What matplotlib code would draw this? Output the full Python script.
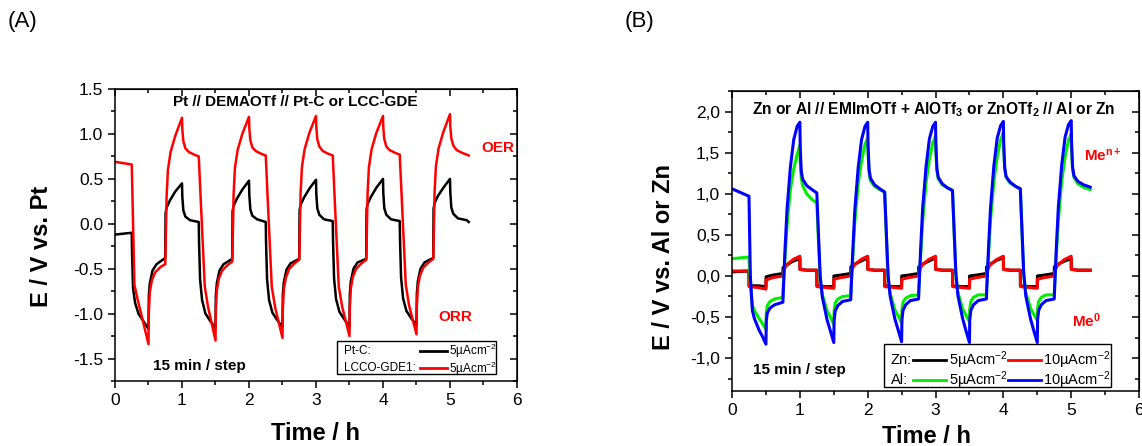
import matplotlib
matplotlib.use("Agg")
import matplotlib.pyplot as plt
from matplotlib.ticker import MultipleLocator
from matplotlib.patches import Rectangle

plt.rcParams["font.family"] = ["Liberation Sans", "DejaVu Sans"]
plt.rcParams["mathtext.fontset"] = "custom"
plt.rcParams["mathtext.rm"] = "Liberation Sans"
plt.rcParams["mathtext.bf"] = "Liberation Sans:bold"
plt.rcParams["mathtext.default"] = "regular"
plt.rcParams["axes.unicode_minus"] = False

END_T = 5.28

# ---- (A) Pt // DEMAOTf // Pt-C or LCC-GDE, 15 min steps ----
ptc_start = -0.12
ptc_rel_t = [0.25, 0.255, 0.27, 0.30, 0.35, 0.42, 0.50, 0.505, 0.52, 0.56, 0.62, 0.75,
             0.755, 0.77, 0.82, 0.90, 1.00, 1.005, 1.02, 1.05, 1.12, 1.25]
ptc_cycles = [
    [-0.10, -0.35, -0.72, -0.88, -1.00, -1.08, -1.17, -0.80, -0.66, -0.52, -0.45, -0.38,
     0.12, 0.18, 0.26, 0.36, 0.45, 0.30, 0.15, 0.08, 0.04, 0.02],
    [0.02, -0.22, -0.62, -0.85, -1.00, -1.08, -1.16, -0.80, -0.66, -0.52, -0.45, -0.39,
     0.14, 0.20, 0.28, 0.38, 0.48, 0.32, 0.16, 0.09, 0.05, 0.02],
    [0.02, -0.22, -0.62, -0.85, -0.99, -1.07, -1.15, -0.79, -0.65, -0.51, -0.44, -0.39,
     0.15, 0.21, 0.29, 0.39, 0.49, 0.33, 0.17, 0.10, 0.05, 0.03],
    [0.03, -0.21, -0.61, -0.84, -0.98, -1.06, -1.15, -0.78, -0.64, -0.50, -0.43, -0.39,
     0.16, 0.22, 0.30, 0.40, 0.50, 0.34, 0.17, 0.10, 0.05, 0.03],
    [0.03, -0.20, -0.60, -0.83, -0.97, -1.05, -1.13, -0.78, -0.64, -0.50, -0.43, -0.38,
     0.17, 0.23, 0.31, 0.40, 0.50, 0.35, 0.18, 0.11, 0.06, 0.04],
]
ptc_end = 0.02

lcco_start = 0.69
lcco_rel_t = [0.25, 0.29, 0.34, 0.39, 0.50, 0.505, 0.52, 0.55, 0.60, 0.68, 0.75, 0.755,
              0.77, 0.79, 0.83, 0.90, 1.00, 1.005, 1.02, 1.05, 1.10, 1.18, 1.25]
lcco_cycles = [
    [0.66, -0.68, -0.85, -1.00, -1.34, -0.98, -0.76, -0.63, -0.54, -0.48, -0.45, -0.30,
     0.30, 0.60, 0.80, 0.98, 1.18, 1.05, 0.92, 0.84, 0.80, 0.77, 0.75],
    [0.75, 0.10, -0.70, -0.93, -1.30, -0.96, -0.74, -0.61, -0.52, -0.46, -0.42, -0.28,
     0.32, 0.62, 0.82, 1.00, 1.19, 1.06, 0.93, 0.85, 0.81, 0.78, 0.76],
    [0.76, 0.10, -0.70, -0.93, -1.27, -0.95, -0.73, -0.60, -0.50, -0.44, -0.40, -0.26,
     0.34, 0.63, 0.83, 1.01, 1.20, 1.07, 0.94, 0.86, 0.81, 0.78, 0.76],
    [0.76, 0.10, -0.70, -0.92, -1.25, -0.94, -0.72, -0.59, -0.50, -0.44, -0.40, -0.26,
     0.34, 0.63, 0.83, 1.01, 1.20, 1.07, 0.94, 0.86, 0.82, 0.79, 0.77],
    [0.77, 0.12, -0.68, -0.91, -1.23, -0.93, -0.71, -0.58, -0.49, -0.43, -0.39, -0.25,
     0.35, 0.64, 0.84, 1.02, 1.22, 1.08, 0.95, 0.87, 0.82, 0.79, 0.77],
]
lcco_end = 0.76

# ---- (B) Zn or Al // EMImOTf + salt // Al or Zn ----
zn_rel_t = [0.25, 0.252, 0.38, 0.50, 0.502, 0.60, 0.75, 0.752, 0.80, 0.90, 1.00, 1.002, 1.10, 1.25]
zn5_start = 0.05
zn5_cycles = [
    [0.06, -0.12, -0.12, -0.13, -0.01, 0.01, 0.03, 0.10, 0.13, 0.18, 0.21, 0.08, 0.07, 0.07],
    [0.07, -0.12, -0.13, -0.13, 0.00, 0.01, 0.03, 0.11, 0.14, 0.18, 0.22, 0.08, 0.07, 0.07],
    [0.07, -0.12, -0.13, -0.13, 0.00, 0.01, 0.03, 0.11, 0.14, 0.18, 0.22, 0.08, 0.07, 0.07],
    [0.07, -0.12, -0.13, -0.13, 0.00, 0.01, 0.03, 0.11, 0.14, 0.19, 0.22, 0.08, 0.07, 0.07],
    [0.07, -0.12, -0.13, -0.13, 0.00, 0.01, 0.03, 0.11, 0.14, 0.18, 0.21, 0.08, 0.07, 0.07],
]
zn5_end = 0.07

zn10_start = 0.06
zn10_cycles = [
    [0.06, -0.13, -0.14, -0.16, -0.05, -0.02, 0.00, 0.05, 0.13, 0.20, 0.24, 0.08, 0.07, 0.07],
    [0.07, -0.13, -0.14, -0.15, -0.04, -0.02, 0.00, 0.05, 0.13, 0.20, 0.24, 0.08, 0.07, 0.07],
    [0.07, -0.13, -0.14, -0.15, -0.04, -0.02, 0.00, 0.05, 0.13, 0.20, 0.24, 0.08, 0.07, 0.07],
    [0.07, -0.13, -0.14, -0.15, -0.04, -0.02, 0.00, 0.05, 0.13, 0.20, 0.24, 0.08, 0.07, 0.07],
    [0.07, -0.13, -0.14, -0.15, -0.04, -0.02, 0.00, 0.05, 0.13, 0.20, 0.24, 0.08, 0.07, 0.07],
]
zn10_end = 0.07

al_rel_t = [0.25, 0.27, 0.30, 0.33, 0.40, 0.45, 0.50, 0.505, 0.52, 0.56, 0.63, 0.75, 0.755,
            0.78, 0.81, 0.86, 0.91, 0.96, 1.00, 1.005, 1.02, 1.04, 1.10, 1.18, 1.25]
al5_start = 0.21
al5_cycles = [
    [0.23, -0.10, -0.36, -0.42, -0.52, -0.58, -0.65, -0.45, -0.36, -0.31, -0.28, -0.26, -0.15,
     0.20, 0.60, 1.05, 1.30, 1.48, 1.59, 1.40, 1.20, 1.10, 1.00, 0.93, 0.89],
    [0.89, 0.50, -0.05, -0.22, -0.42, -0.50, -0.59, -0.42, -0.33, -0.28, -0.25, -0.24, -0.13,
     0.22, 0.65, 1.12, 1.40, 1.60, 1.68, 1.48, 1.26, 1.16, 1.09, 1.05, 1.02],
    [1.02, 0.60, -0.02, -0.21, -0.41, -0.49, -0.57, -0.41, -0.32, -0.27, -0.24, -0.23, -0.12,
     0.23, 0.66, 1.13, 1.42, 1.62, 1.70, 1.50, 1.28, 1.18, 1.11, 1.07, 1.04],
    [1.04, 0.62, 0.00, -0.20, -0.40, -0.48, -0.56, -0.40, -0.31, -0.26, -0.23, -0.23, -0.12,
     0.24, 0.67, 1.15, 1.45, 1.66, 1.74, 1.52, 1.30, 1.20, 1.13, 1.09, 1.06],
    [1.06, 0.63, 0.01, -0.20, -0.39, -0.47, -0.54, -0.39, -0.31, -0.26, -0.23, -0.23, -0.12,
     0.24, 0.67, 1.15, 1.45, 1.65, 1.73, 1.52, 1.30, 1.20, 1.12, 1.08, 1.06],
]
al5_end = 1.05

al10_start = 1.06
al10_cycles = [
    [0.97, 0.00, -0.42, -0.52, -0.66, -0.74, -0.83, -0.55, -0.45, -0.39, -0.35, -0.32, -0.20,
     0.30, 0.80, 1.32, 1.66, 1.82, 1.87, 1.58, 1.28, 1.18, 1.10, 1.05, 1.01],
    [1.01, 0.60, 0.00, -0.25, -0.53, -0.67, -0.81, -0.54, -0.43, -0.36, -0.31, -0.29, -0.18,
     0.30, 0.80, 1.32, 1.66, 1.82, 1.87, 1.60, 1.30, 1.19, 1.11, 1.06, 1.02],
    [1.02, 0.62, 0.02, -0.24, -0.52, -0.66, -0.80, -0.53, -0.42, -0.35, -0.30, -0.28, -0.17,
     0.32, 0.82, 1.33, 1.67, 1.82, 1.87, 1.61, 1.31, 1.20, 1.12, 1.07, 1.04],
    [1.04, 0.64, 0.03, -0.24, -0.52, -0.67, -0.81, -0.53, -0.42, -0.35, -0.30, -0.28, -0.17,
     0.32, 0.82, 1.34, 1.68, 1.83, 1.88, 1.62, 1.32, 1.21, 1.14, 1.09, 1.06],
    [1.06, 0.65, 0.04, -0.24, -0.52, -0.67, -0.81, -0.53, -0.42, -0.35, -0.30, -0.28, -0.17,
     0.33, 0.83, 1.35, 1.69, 1.84, 1.89, 1.63, 1.33, 1.22, 1.15, 1.11, 1.09],
]
al10_end = 1.08

yticks_a = [-1.5, -1.0, -0.5, 0.0, 0.5, 1.0, 1.5]
ylabels_a = ["-1.5", "-1.0", "-0.5", "0.0", "0.5", "1.0", "1.5"]
yticks_b = [-1.0, -0.5, 0.0, 0.5, 1.0, 1.5, 2.0]
ylabels_b = ["-1,0", "-0,5", "0,0", "0,5", "1,0", "1,5", "2,0"]


def build(start, rel_t, cycles, end):
    # one cycle = reduction step + rest + oxidation step + rest, 1 h long
    t = [0.0]
    e = [start]
    for k, vals in enumerate(cycles):
        t += [k + r for r in rel_t]
        e += vals
    t.append(END_T)
    e.append(end)
    return t, e


def style_axes(ax, ylim, yticks, ylabels):
    ax.set_xlim(0, 6)
    ax.set_ylim(*ylim)
    ax.set_xticks(range(7))
    ax.xaxis.set_minor_locator(MultipleLocator(0.5))
    ax.set_yticks(yticks)
    ax.set_yticklabels(ylabels)
    ax.yaxis.set_minor_locator(MultipleLocator(0.25))
    ax.tick_params(which="both", direction="out", labelsize=12.5, width=1.1)
    ax.tick_params(which="major", length=5)
    ax.tick_params(which="minor", length=3)
    for s in ax.spines.values():
        s.set_linewidth(1.1)
    top = ax.secondary_xaxis("top")
    top.set_xticks(range(7))
    top.xaxis.set_minor_locator(MultipleLocator(0.5))
    top.tick_params(which="both", direction="in", labeltop=False, width=1.1)
    top.tick_params(which="major", length=5)
    top.tick_params(which="minor", length=3)
    right = ax.secondary_yaxis("right")
    right.set_yticks(yticks)
    right.yaxis.set_minor_locator(MultipleLocator(0.25))
    right.tick_params(which="both", direction="in", labelright=False, width=1.1)
    right.tick_params(which="major", length=5)
    right.tick_params(which="minor", length=3)
    ax.set_xlabel("Time / h", fontsize=17, fontweight="bold")


def legend_row(ax, y, name, entries, x_name, fs):
    ax.text(x_name, y, name, transform=ax.transAxes, fontsize=fs, va="center")
    for x0, x1, color, label in entries:
        ax.plot([x0, x1], [y, y], color=color, lw=2, transform=ax.transAxes)
        ax.text(x1 + 0.006, y, label, transform=ax.transAxes, fontsize=fs, va="center")


fig = plt.figure(figsize=(11.42, 4.46), dpi=100)

# panel A
ax1 = fig.add_axes([0.1007, 0.1457, 0.352, 0.6547])
t, e = build(ptc_start, ptc_rel_t, ptc_cycles, ptc_end)
ax1.plot(t, e, color="black", lw=1.8)
t, e = build(lcco_start, lcco_rel_t, lcco_cycles, lcco_end)
ax1.plot(t, e, color="#ff0000", lw=1.8)
style_axes(ax1, (-1.75, 1.5), yticks_a, ylabels_a)
ax1.set_ylabel("E / V vs. Pt", fontsize=17, fontweight="bold")
ax1.yaxis.set_label_coords(-0.155, 0.46)
ax1.xaxis.set_label_coords(0.5, -0.139)
ax1.text(2.69, 1.35, "Pt // DEMAOTf // Pt-C or LCC-GDE", fontsize=11, fontweight="bold",
         ha="center", va="center")
ax1.text(1.26, -1.585, "15 min / step", fontsize=11, fontweight="bold", ha="center", va="center")
ax1.text(5.72, 0.84, "OER", color="#ff0000", fontsize=11, fontweight="bold", ha="center", va="center")
ax1.text(5.08, -1.04, "ORR", color="#ff0000", fontsize=11, fontweight="bold", ha="center", va="center")
ax1.add_patch(Rectangle((0.553, 0.023), 0.395, 0.115, transform=ax1.transAxes,
                        fill=False, lw=1.0, edgecolor="black"))
legend_row(ax1, 0.104, "Pt-C:", [(0.759, 0.826, "black", "5µAcm$^{-2}$")], 0.570, 8.5)
legend_row(ax1, 0.043, "LCCO-GDE1:", [(0.759, 0.826, "#ff0000", "5µAcm$^{-2}$")], 0.570, 8.5)

# panel B
ax2 = fig.add_axes([0.641, 0.1233, 0.3564, 0.6726])
t, e = build(zn5_start, zn_rel_t, zn5_cycles, zn5_end)
ax2.plot(t, e, color="black", lw=2.2)
t, e = build(zn10_start, zn_rel_t, zn10_cycles, zn10_end)
ax2.plot(t, e, color="#ff0000", lw=2.2)
t, e = build(al5_start, al_rel_t, al5_cycles, al5_end)
ax2.plot(t, e, color="#00ee00", lw=2.2)
t, e = build(al10_start, al_rel_t, al10_cycles, al10_end)
ax2.plot(t, e, color="#0000ff", lw=2.2)
style_axes(ax2, (-1.4, 2.25), yticks_b, ylabels_b)
ax2.set_ylabel("E / V vs. Al or Zn", fontsize=17, fontweight="bold")
ax2.yaxis.set_label_coords(-0.139, 0.447)
ax2.xaxis.set_label_coords(0.478, -0.112)
ax2.text(2.98, 2.02, r"Zn or Al // EMImOTf + AlOTf$_\mathbf{3}$ or ZnOTf$_\mathbf{2}$ // Al or Zn",
         fontsize=11.2, fontweight="bold", ha="center", va="center")
ax2.text(1.0, -1.15, "15 min / step", fontsize=11, fontweight="bold", ha="center", va="center")
ax2.text(5.47, 1.465, r"Me$^\mathbf{n+}$", color="#ff0000", fontsize=11, fontweight="bold",
         ha="center", va="center")
ax2.text(5.22, -0.54, r"Me$^\mathbf{0}$", color="#ff0000", fontsize=11, fontweight="bold",
         ha="center", va="center")
ax2.add_patch(Rectangle((0.373, 0.012), 0.557, 0.145, transform=ax2.transAxes,
                        fill=False, lw=1.0, edgecolor="black"))
legend_row(ax2, 0.103, "Zn:", [(0.445, 0.526, "black", "5µAcm$^{-2}$"),
                               (0.678, 0.759, "#ff0000", "10µAcm$^{-2}$")], 0.390, 10.5)
legend_row(ax2, 0.037, "Al:", [(0.445, 0.526, "#00ee00", "5µAcm$^{-2}$"),
                               (0.678, 0.759, "#0000ff", "10µAcm$^{-2}$")], 0.390, 10.5)

fig.text(0.007, 0.951, "(A)", fontsize=16, va="center")
fig.text(0.547, 0.951, "(B)", fontsize=16, va="center")

fig.savefig("out.png", dpi=100)
